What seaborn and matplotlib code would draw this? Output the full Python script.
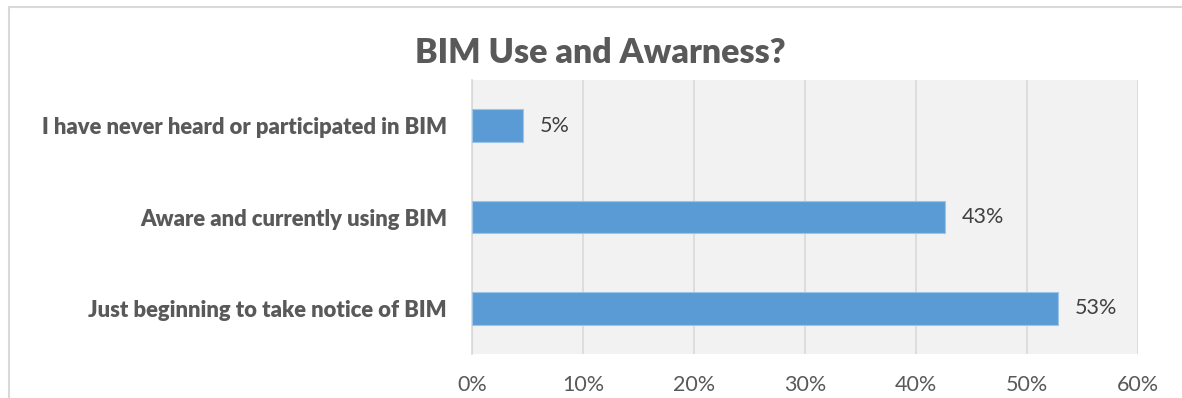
import matplotlib
matplotlib.use("Agg")
import matplotlib.pyplot as plt
import seaborn as sns
import pandas as pd
from matplotlib.patches import Rectangle
from matplotlib.ticker import PercentFormatter

categories = ["I have never heard or participated in BIM",
              "Aware and currently using BIM",
              "Just beginning to take notice of BIM"]
values = [0.046, 0.426, 0.528]
labels = ["5%", "43%", "53%"]
xticks = [0, 0.1, 0.2, 0.3, 0.4, 0.5, 0.6]

sns.set_theme(style="white")
plt.rcParams['font.family'] = ['Lato', 'DejaVu Sans']

W, H = 1182, 398
fig = plt.figure(figsize=(W / 100, H / 100), dpi=100)
ax = fig.add_axes([472 / W, (H - 354) / H, (1138 - 472) / W, (354 - 80) / H])

df = pd.DataFrame({"cat": categories, "val": values})
sns.barplot(data=df, y="cat", x="val", orient="h", color="#5B9BD5",
            saturation=1, width=0.36, ax=ax, zorder=3)
for p in ax.patches:
    p.set_edgecolor("#9DC3E6")
    p.set_linewidth(0.8)

ax.set_facecolor("#F2F2F2")
ax.set_xlim(0, 0.6)
ax.set_xticks(xticks)
ax.xaxis.set_major_formatter(PercentFormatter(1.0, decimals=0))
ax.grid(axis="x", color="#D9D9D9", linewidth=1.2, zorder=0)
ax.set_axisbelow(True)
for s in ["top", "right", "bottom"]:
    ax.spines[s].set_visible(False)
ax.spines["left"].set_color("#D9D9D9")
ax.spines["left"].set_linewidth(1.2)
ax.set_xlabel("")
ax.set_ylabel("")
ax.tick_params(axis="x", length=0, pad=15, labelsize=15.5, labelcolor="#595959")
ax.tick_params(axis="y", length=0, pad=18, labelsize=15.8, labelcolor="#595959")
for t in ax.get_yticklabels():
    t.set_fontweight("heavy")

for i, (v, lab) in enumerate(zip(values, labels)):
    ax.annotate(lab, xy=(v, i), xytext=(12, 0), textcoords="offset points",
                va="center", ha="left", fontsize=15.5, color="#404040")

fig.text(600 / W, 1 - 53 / H, "BIM Use and Awarness?", ha="center", va="center",
         fontsize=24.4, fontweight="heavy", color="#595959")

fig.patches.append(Rectangle((9 / W, -0.1), 1.2, 1 - 7 / H + 0.1, transform=fig.transFigure,
                             fill=False, edgecolor="#D9D9D9", linewidth=1.5))

fig.savefig("out.png", dpi=100, facecolor="white")
